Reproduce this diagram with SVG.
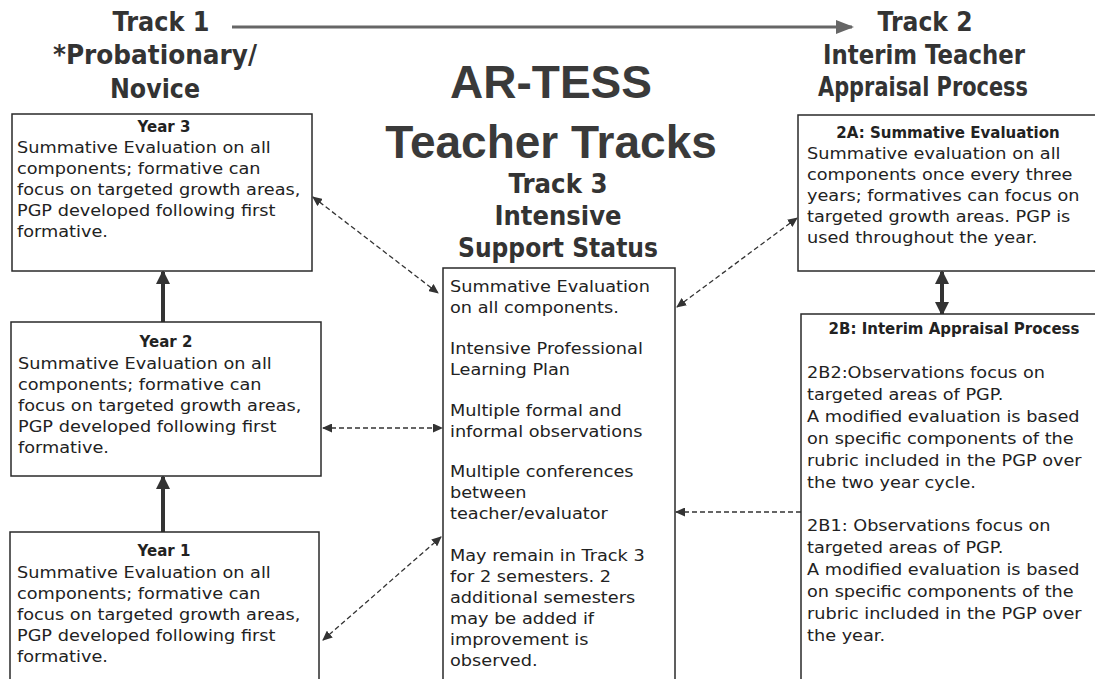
<svg xmlns="http://www.w3.org/2000/svg" width="1095" height="679" viewBox="0 0 1095 679">
<style>
.bg{fill:#fff}
.box{fill:#fff;stroke:#2a2a2a;stroke-width:1.5}
.hd{font-family:"DejaVu Sans",Verdana,sans-serif;font-weight:bold;font-size:27px;fill:#333;text-anchor:middle}
.big{font-family:"Liberation Sans",Arial,sans-serif;font-weight:bold;font-size:46px;fill:#3a3a3a;text-anchor:middle}
.bt{font-family:"DejaVu Sans",Verdana,sans-serif;font-weight:bold;font-size:15px;fill:#222;text-anchor:middle}
.tx{font-family:"DejaVu Sans",Verdana,sans-serif;font-size:15px;fill:#222}
.dash{fill:none;stroke:#333;stroke-width:1.3;stroke-dasharray:5 3}
.solid{fill:none;stroke:#333;stroke-width:4}
.top{fill:none;stroke:#666;stroke-width:3}
</style>
<defs>
<marker id="dh" markerUnits="userSpaceOnUse" markerWidth="10" markerHeight="9" refX="9" refY="4.5" orient="auto-start-reverse"><path d="M0,0 L10,4.5 L0,9 z" fill="#333"/></marker>
<marker id="sh" markerUnits="userSpaceOnUse" markerWidth="14" markerHeight="14" refX="12" refY="7" orient="auto-start-reverse"><path d="M0,0 L14,7 L0,14 z" fill="#333"/></marker>
<marker id="th" markerUnits="userSpaceOnUse" markerWidth="18" markerHeight="14" refX="16" refY="7" orient="auto"><path d="M0,0 L18,7 L0,14 z" fill="#666"/></marker>
</defs>
<rect class="bg" x="0" y="0" width="1095" height="679"/>

<g id="headings">
<text class="hd" x="161" y="31" textLength="97" lengthAdjust="spacingAndGlyphs">Track 1</text>
<text class="hd" x="155" y="64" textLength="204" lengthAdjust="spacingAndGlyphs">*Probationary/</text>
<text class="hd" x="155" y="98" textLength="90" lengthAdjust="spacingAndGlyphs">Novice</text>
<text class="hd" x="925" y="31" textLength="95" lengthAdjust="spacingAndGlyphs">Track 2</text>
<text class="hd" x="924" y="64" textLength="202" lengthAdjust="spacingAndGlyphs">Interim Teacher</text>
<text class="hd" x="923" y="96" textLength="210" lengthAdjust="spacingAndGlyphs">Appraisal Process</text>
<text class="big" x="551" y="98">AR-TESS</text>
<text class="big" x="551" y="158">Teacher Tracks</text>
<text class="hd" x="558" y="193" textLength="99" lengthAdjust="spacingAndGlyphs">Track 3</text>
<text class="hd" x="558" y="225" textLength="127" lengthAdjust="spacingAndGlyphs">Intensive</text>
<text class="hd" x="558" y="257" textLength="200" lengthAdjust="spacingAndGlyphs">Support Status</text>
</g>

<g id="connectors">
<line class="top" x1="232" y1="27" x2="852" y2="27" marker-end="url(#th)"/>
<line class="solid" x1="163" y1="532" x2="163" y2="477" marker-end="url(#sh)"/>
<line class="solid" x1="163" y1="322" x2="163" y2="272" marker-end="url(#sh)"/>
<line class="solid" x1="942" y1="272" x2="942" y2="314" marker-start="url(#sh)" marker-end="url(#sh)"/>
<line class="dash" x1="313" y1="197" x2="438" y2="293" marker-start="url(#dh)" marker-end="url(#dh)"/>
<line class="dash" x1="677" y1="307" x2="797" y2="218" marker-start="url(#dh)" marker-end="url(#dh)"/>
<line class="dash" x1="323" y1="428" x2="442" y2="428" marker-start="url(#dh)" marker-end="url(#dh)"/>
<line class="dash" x1="323" y1="640" x2="441" y2="537" marker-start="url(#dh)" marker-end="url(#dh)"/>
<line class="dash" x1="801" y1="512" x2="676" y2="512" marker-end="url(#dh)"/>
</g>

<g id="year3">
<rect class="box" x="12" y="114" width="300" height="157"/>
<text class="bt" x="164" y="132">Year 3</text>
<g transform="translate(17,0) scale(1.18,1)">
<text class="tx" x="0" y="153">Summative Evaluation on all</text>
<text class="tx" x="0" y="174">components; formative can</text>
<text class="tx" x="0" y="195">focus on targeted growth areas,</text>
<text class="tx" x="0" y="216">PGP developed following first</text>
<text class="tx" x="0" y="237">formative.</text>
</g>
</g>

<g id="year2">
<rect class="box" x="11" y="322" width="310" height="154"/>
<text class="bt" x="166" y="347">Year 2</text>
<g transform="translate(18,0) scale(1.18,1)">
<text class="tx" x="0" y="369">Summative Evaluation on all</text>
<text class="tx" x="0" y="390">components; formative can</text>
<text class="tx" x="0" y="411">focus on targeted growth areas,</text>
<text class="tx" x="0" y="432">PGP developed following first</text>
<text class="tx" x="0" y="453">formative.</text>
</g>
</g>

<g id="year1">
<rect class="box" x="10" y="532" width="309" height="160"/>
<text class="bt" x="164" y="556">Year 1</text>
<g transform="translate(17,0) scale(1.18,1)">
<text class="tx" x="0" y="578">Summative Evaluation on all</text>
<text class="tx" x="0" y="599">components; formative can</text>
<text class="tx" x="0" y="620">focus on targeted growth areas,</text>
<text class="tx" x="0" y="641">PGP developed following first</text>
<text class="tx" x="0" y="662">formative.</text>
</g>
</g>

<g id="track3">
<rect class="box" x="443" y="268" width="232" height="420"/>
<g transform="translate(450,0) scale(1.18,1)">
<text class="tx" x="0" y="292">Summative Evaluation</text>
<text class="tx" x="0" y="313">on all components.</text>
<text class="tx" x="0" y="354">Intensive Professional</text>
<text class="tx" x="0" y="375">Learning Plan</text>
<text class="tx" x="0" y="416">Multiple formal and</text>
<text class="tx" x="0" y="437">informal observations</text>
<text class="tx" x="0" y="477">Multiple conferences</text>
<text class="tx" x="0" y="498">between</text>
<text class="tx" x="0" y="519">teacher/evaluator</text>
<text class="tx" x="0" y="561">May remain in Track 3</text>
<text class="tx" x="0" y="582">for 2 semesters. 2</text>
<text class="tx" x="0" y="603">additional semesters</text>
<text class="tx" x="0" y="624">may be added if</text>
<text class="tx" x="0" y="645">improvement is</text>
<text class="tx" x="0" y="666">observed.</text>
</g>
</g>

<g id="track2a">
<rect class="box" x="798" y="115" width="310" height="156"/>
<text class="bt" x="948" y="138">2A: Summative Evaluation</text>
<g transform="translate(807,0) scale(1.18,1)">
<text class="tx" x="0" y="159">Summative evaluation on all</text>
<text class="tx" x="0" y="180">components once every three</text>
<text class="tx" x="0" y="201">years; formatives can focus on</text>
<text class="tx" x="0" y="222">targeted growth areas. PGP is</text>
<text class="tx" x="0" y="243">used throughout the year.</text>
</g>
</g>

<g id="track2b">
<rect class="box" x="801" y="314" width="310" height="380"/>
<text class="bt" x="954" y="334">2B: Interim Appraisal Process</text>
<g transform="translate(807,0) scale(1.18,1)">
<text class="tx" x="0" y="378">2B2:Observations focus on</text>
<text class="tx" x="0" y="400">targeted areas of PGP.</text>
<text class="tx" x="0" y="422">A modified evaluation is based</text>
<text class="tx" x="0" y="444">on specific components of the</text>
<text class="tx" x="0" y="466">rubric included in the PGP over</text>
<text class="tx" x="0" y="488">the two year cycle.</text>
<text class="tx" x="0" y="531">2B1: Observations focus on</text>
<text class="tx" x="0" y="553">targeted areas of PGP.</text>
<text class="tx" x="0" y="575">A modified evaluation is based</text>
<text class="tx" x="0" y="597">on specific components of the</text>
<text class="tx" x="0" y="619">rubric included in the PGP over</text>
<text class="tx" x="0" y="641">the year.</text>
</g>
</g>
</svg>
